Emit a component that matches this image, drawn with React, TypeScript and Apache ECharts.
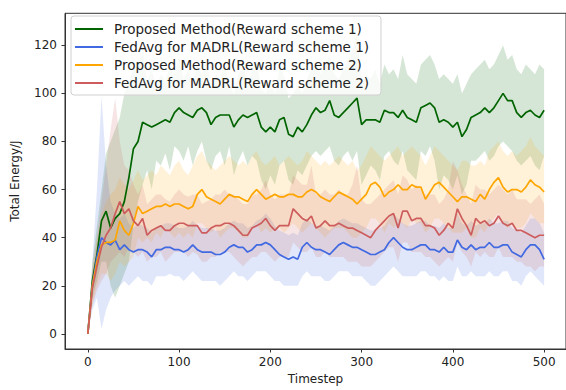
import React, { useEffect, useRef } from "react";
import * as echarts from "echarts";

const timesteps = [0,5,10,15,20,25,30,35,40,45,50,55,60,65,70,75,80,85,90,95,100,105,110,115,120,125,130,135,140,145,150,155,160,165,170,175,180,185,190,195,200,205,210,215,220,225,230,235,240,245,250,255,260,265,270,275,280,285,290,295,300,305,310,315,320,325,330,335,340,345,350,355,360,365,370,375,380,385,390,395,400,405,410,415,420,425,430,435,440,445,450,455,460,465,470,475,480,485,490,495,500];

const seriesNames = [
  "Proposed Method(Reward scheme 1)",
  "FedAvg for MADRL(Reward scheme 1)",
  "Proposed Method(Reward scheme 2)",
  "FedAvg for MADRL(Reward scheme 2)",
];

const proposed1 = [0,22,33,47,51,44,48,50,55,65,77,80,88,87,86,87,88,89,88,92,94,92,91,90,93,94,92,87,90,91,91,91,86,89,91,90,91,92,86,84,86,84,89,90,83,82,86,84,87,91,94,92,93,97,91,90,92,94,96,98,87,89,89,89,88,93,92,92,90,93,90,89,88,94,95,96,94,88,89,88,86,88,82,85,90,91,92,94,92,94,97,100,97,97,92,90,92,93,91,90,93];
const proposed1Upper = [0,30,45,60,75,80,85,90,100,105,110,112,118,105,110,103,108,105,112,108,115,106,110,104,112,108,114,102,108,106,112,104,100,108,112,104,110,114,102,100,106,100,110,108,98,100,104,100,106,110,114,108,112,116,108,106,110,114,118,125,104,108,106,110,104,112,108,110,106,116,108,106,104,112,114,116,112,106,108,106,104,108,100,104,108,110,112,114,110,112,116,120,114,116,110,108,112,110,108,112,110];
const proposed1Lower = [0,15,22,30,30,20,15,20,25,30,45,55,62,68,60,72,70,75,68,78,76,72,78,70,76,80,72,68,74,76,70,78,66,72,76,70,74,72,64,60,66,62,70,72,64,62,68,66,70,74,76,74,76,78,72,70,74,76,72,76,62,66,70,68,64,74,76,72,70,76,68,66,64,76,74,78,72,60,66,64,60,66,58,62,72,72,74,76,72,74,78,80,78,76,72,70,72,74,70,68,74];

const fedavg1 = [0,20,32,40,38,37,39,35,37,35,34,35,35,34,32,35,35,36,36,35,35,34,35,37,35,34,34,34,33,33,34,36,37,36,36,34,35,37,37,38,37,35,33,32,31,32,31,36,38,36,35,35,34,33,35,37,38,37,36,36,35,34,33,33,34,35,38,40,38,36,35,35,36,37,37,35,35,34,36,34,34,39,36,35,37,35,36,36,38,36,36,37,37,34,33,32,35,37,37,35,31];
const fedavg1Upper = [0,30,60,99,70,55,50,48,50,46,44,46,45,44,42,44,45,46,46,45,44,44,45,47,45,44,44,44,43,43,44,46,47,46,46,44,45,47,48,50,48,45,43,42,41,42,41,46,48,46,45,45,44,43,45,47,48,47,46,46,45,44,43,43,44,45,48,50,48,46,45,45,46,47,47,45,45,44,46,44,44,50,46,45,47,45,46,46,48,46,46,47,47,44,43,42,45,48,48,46,42];
const fedavg1Lower = [0,10,15,2,10,15,18,20,22,20,22,24,22,22,20,24,24,24,25,24,24,22,24,26,24,22,22,22,22,20,22,24,26,24,24,22,24,26,26,26,24,22,22,20,20,20,20,24,26,24,24,24,22,22,24,26,26,26,24,24,24,22,20,20,22,24,26,28,26,24,24,24,24,26,26,24,24,22,24,22,22,28,24,24,26,24,24,24,26,24,24,26,26,22,22,20,24,26,24,22,20];

const proposed2 = [0,20,30,37,38,38,39,47,43,41,46,53,50,51,52,53,53,54,53,54,54,53,52,53,58,60,57,56,55,54,56,58,57,57,56,55,58,60,58,56,57,58,57,57,58,58,57,57,59,60,59,57,56,55,57,59,58,57,56,54,56,58,62,63,61,57,59,60,62,60,60,62,61,61,56,59,62,63,61,59,57,55,57,57,56,55,58,56,60,63,65,61,59,60,60,59,61,64,62,61,59];
const proposed2Upper = [0,28,40,50,55,58,60,65,62,60,64,68,64,66,68,66,70,68,66,70,72,68,66,70,74,76,72,70,68,70,72,74,72,70,72,70,74,76,72,70,72,74,70,72,74,72,70,72,76,74,72,70,72,70,72,74,72,70,72,68,70,74,78,76,74,72,74,76,78,74,76,78,76,74,70,74,78,76,74,72,70,68,72,72,70,70,72,70,76,78,80,76,74,76,74,76,78,82,78,76,74];
const proposed2Lower = [0,12,20,25,25,22,25,30,28,30,32,40,38,40,38,42,40,44,42,40,42,40,42,40,46,46,44,42,44,40,42,44,44,42,40,40,44,46,42,44,42,44,44,42,44,46,44,42,44,46,44,42,40,42,44,44,44,42,40,40,42,44,48,48,46,42,46,44,46,46,44,48,46,46,42,44,48,48,46,44,42,42,42,44,40,40,44,42,46,48,50,46,44,46,44,44,46,50,48,46,46];

const fedavg2 = [0,19,28,36,41,44,50,55,50,52,47,45,48,41,43,44,45,43,43,45,46,46,45,45,45,42,42,44,45,45,46,46,45,43,41,41,44,45,46,48,45,43,45,45,45,52,50,48,47,49,44,45,47,45,45,46,45,44,44,43,42,41,40,43,45,47,49,50,44,51,51,47,48,48,45,45,44,41,43,46,44,52,48,45,41,48,46,47,45,46,49,46,45,46,43,43,42,41,40,41,41];
const fedavg2Upper = [0,26,40,55,70,85,98,80,70,68,62,58,62,54,56,58,58,56,55,58,60,58,57,58,58,54,55,56,58,58,60,58,58,56,54,54,58,58,60,64,58,56,58,58,58,66,64,62,62,70,58,58,60,58,58,60,58,58,62,70,56,54,54,56,58,60,62,64,58,66,64,60,62,60,58,58,58,54,56,60,72,68,62,58,54,62,60,60,58,60,62,60,58,60,56,56,56,54,56,58,54];
const fedavg2Lower = [0,12,18,22,25,30,32,34,32,36,34,32,34,30,32,32,34,30,32,34,34,34,32,34,33,30,30,32,32,34,34,34,32,30,28,30,32,32,34,34,32,30,32,32,32,38,36,34,34,36,32,32,34,32,32,32,32,30,30,30,28,28,28,30,32,34,36,36,30,38,38,34,34,34,32,32,30,28,30,32,30,38,34,32,28,34,32,34,32,32,36,32,32,32,30,30,28,28,26,28,28];

const xTicks = [0, 100, 200, 300, 400, 500];
const yTicks = [0, 20, 40, 60, 80, 100, 120];

const FONT = "DejaVu Sans";

export default function App() {
  const ref = useRef<HTMLDivElement>(null);
  useEffect(() => {
    if (!ref.current) return;
    const chart = echarts.init(ref.current, undefined, { renderer: "svg" });
    const pairs = (arr: number[]) => timesteps.map((t, i) => [t, arr[i]]);

    const groups = [
      { name: seriesNames[0], mean: proposed1, up: proposed1Upper, lo: proposed1Lower, color: "#006400", band: "rgba(0,100,0,0.16)" },
      { name: seriesNames[1], mean: fedavg1, up: fedavg1Upper, lo: fedavg1Lower, color: "#4169E1", band: "rgba(65,105,225,0.16)" },
      { name: seriesNames[2], mean: proposed2, up: proposed2Upper, lo: proposed2Lower, color: "#FFA500", band: "rgba(255,165,0,0.15)" },
      { name: seriesNames[3], mean: fedavg2, up: fedavg2Upper, lo: fedavg2Lower, color: "#CD5C5C", band: "rgba(205,92,92,0.16)" },
    ];

    const series: any[] = [];
    groups.forEach((g, k) => {
      series.push({
        name: "band-" + k,
        type: "custom",
        silent: true,
        z: 1,
        data: timesteps.map((t, i) => [t, g.lo[i], g.up[i]]),
        encode: { x: 0, y: [1, 2] },
        renderItem: (params: any, api: any) => {
          if (params.dataIndex !== 0) return null;
          const upperPts = timesteps.map((t, i) => api.coord([t, g.up[i]]));
          const lowerPts = timesteps.map((t, i) => api.coord([t, g.lo[i]])).reverse();
          const cs = params.coordSys;
          return {
            type: "polygon",
            shape: { points: upperPts.concat(lowerPts) },
            style: { fill: g.band, stroke: "none" },
            clipPath: { type: "rect", shape: { x: cs.x, y: cs.y, width: cs.width, height: cs.height } },
          };
        },
      });
    });
    groups.forEach((g) => {
      series.push({
        name: g.name,
        type: "line",
        data: pairs(g.mean),
        symbol: "none",
        color: g.color,
        lineStyle: { color: g.color, width: 1.7 },
        z: 3,
      });
    });

    chart.setOption({
      animation: false,
      textStyle: { fontFamily: FONT },
      grid: {
        left: 65,
        top: 13.3,
        width: 505.7,
        height: 341,
        show: true,
        borderColor: "#333",
        borderWidth: 1,
        backgroundColor: "transparent",
      },
      legend: {
        data: seriesNames,
        orient: "vertical",
        left: 71,
        top: 16,
        icon: "rect",
        itemWidth: 28,
        itemHeight: 2,
        itemGap: 2,
        padding: [5, 12, 4, 4],
        backgroundColor: "rgba(255,255,255,0.8)",
        borderColor: "#d0d0d0",
        borderWidth: 1,
        borderRadius: 3,
        textStyle: { fontFamily: FONT, fontSize: 13.5, color: "#222", lineHeight: 16, padding: [0, 0, 0, 6] },
      },
      xAxis: {
        type: "value",
        min: -25,
        max: 524,
        name: "Timestep",
        nameLocation: "middle",
        nameGap: 24,
        nameTextStyle: { fontFamily: FONT, fontSize: 12, color: "#222" },
        axisLine: { show: true, onZero: false, lineStyle: { color: "#333", width: 1 } },
        axisTick: { show: true, inside: false, length: 3.5, customValues: xTicks, lineStyle: { color: "#333" } },
        axisLabel: { customValues: xTicks, fontFamily: FONT, fontSize: 12, color: "#222", margin: 7 },
        splitLine: { show: false },
      },
      yAxis: {
        type: "value",
        min: -6.3,
        max: 133.3,
        name: "Total Energy/J",
        nameLocation: "middle",
        nameGap: 44,
        nameTextStyle: { fontFamily: FONT, fontSize: 12, color: "#222" },
        axisLine: { show: true, onZero: false, lineStyle: { color: "#333", width: 1 } },
        axisTick: { show: true, inside: false, length: 3.5, customValues: yTicks, lineStyle: { color: "#333" } },
        axisLabel: { customValues: yTicks, fontFamily: FONT, fontSize: 12, color: "#222", margin: 8 },
        splitLine: { show: false },
      },
      series,
    });
    return () => chart.dispose();
  }, []);
  return <div ref={ref} style={{ position: "absolute", left: 0, top: 0, width: 566, height: 390 }} />;
}
